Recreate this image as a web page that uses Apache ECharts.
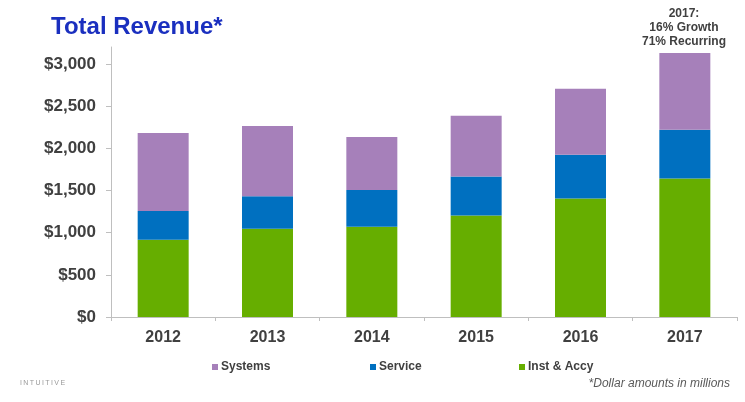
<!DOCTYPE html>
<html>
<head>
<meta charset="utf-8">
<script src="https://cdn.jsdelivr.net/npm/echarts@6/dist/echarts.min.js"></script>
<style>
html,body{margin:0;padding:0;background:#fff;}
#chart{width:745px;height:402px;}
</style>
</head>
<body>
<div id="chart"></div>
<script>
const categories = ['2012', '2013', '2014', '2015', '2016', '2017'];
const instAccy = [915, 1045, 1070, 1203, 1403, 1642];
const service = [340, 385, 435, 463, 519, 578];
const systems = [925, 835, 627, 718, 782, 909];
const yTicks = [0, 500, 1000, 1500, 2000, 2500, 3000];
const legendNames = ['Systems', 'Service', 'Inst & Accy'];

const chart = echarts.init(document.getElementById('chart'));
const font = 'Liberation Sans, Arial, sans-serif';
const legendLefts = [212, 370, 519];
const legends = legendNames.map((n, i) => ({
  data: [n],
  top: 361, left: legendLefts[i], padding: 0,
  itemWidth: 6, itemHeight: 6,
  icon: 'rect',
  textStyle: { fontFamily: font, fontSize: 12, fontWeight: 'bold', color: '#404040', padding: [0, 0, 0, -2] }
}));
chart.setOption({
  animation: false,
  title: {
    text: 'Total Revenue*',
    left: 46, top: 10,
    textStyle: { fontFamily: font, fontSize: 24, fontWeight: 'bold', color: '#1a2fbf' }
  },
  legend: legends,
  grid: { left: 111, right: 8, top: 47, bottom: 85 },
  xAxis: {
    type: 'category',
    data: categories,
    axisLine: { lineStyle: { color: '#bfbfbf' } },
    axisTick: { show: true, length: 4, lineStyle: { color: '#bfbfbf' } },
    axisLabel: { fontFamily: font, fontSize: 16, fontWeight: 'bold', color: '#404040', margin: 13 }
  },
  yAxis: {
    type: 'value',
    min: 0, max: 3200, interval: 500,
    splitLine: { show: false },
    axisLine: { show: true, lineStyle: { color: '#bfbfbf' } },
    axisTick: { show: true, length: 5, lineStyle: { color: '#bfbfbf' }, customValues: yTicks },
    axisLabel: {
      fontFamily: font, fontSize: 17, fontWeight: 'bold', color: '#404040', margin: 15,
      customValues: yTicks,
      formatter: v => '$' + v.toLocaleString('en-US')
    }
  },
  series: [
    { name: 'Inst & Accy', type: 'bar', stack: 'rev', data: instAccy, barWidth: 51, itemStyle: { color: '#66ae00' } },
    { name: 'Service', type: 'bar', stack: 'rev', data: service, itemStyle: { color: '#0070c0' } },
    { name: 'Systems', type: 'bar', stack: 'rev', data: systems, itemStyle: { color: '#a680ba' } }
  ],
  graphic: [
    {
      type: 'text', x: 684, y: 7,
      style: {
        text: '2017:\n16% Growth\n71% Recurring',
        fontFamily: font, fontSize: 12, fontWeight: 'bold', fill: '#404040',
        align: 'center', verticalAlign: 'top', lineHeight: 14
      }
    },
    {
      type: 'text', x: 20, y: 383,
      style: { text: 'I\u2009N\u2009T\u2009U\u2009I\u2009T\u2009I\u2009V\u2009E', fontFamily: font, fontSize: 7, fill: '#999999', verticalAlign: 'middle' }
    },
    {
      type: 'text', right: 15, top: 378,
      style: { text: '*Dollar amounts in millions', fontFamily: font, fontSize: 12, fontStyle: 'italic', fill: '#595959' }
    }
  ]
});
</script>
</body>
</html>
